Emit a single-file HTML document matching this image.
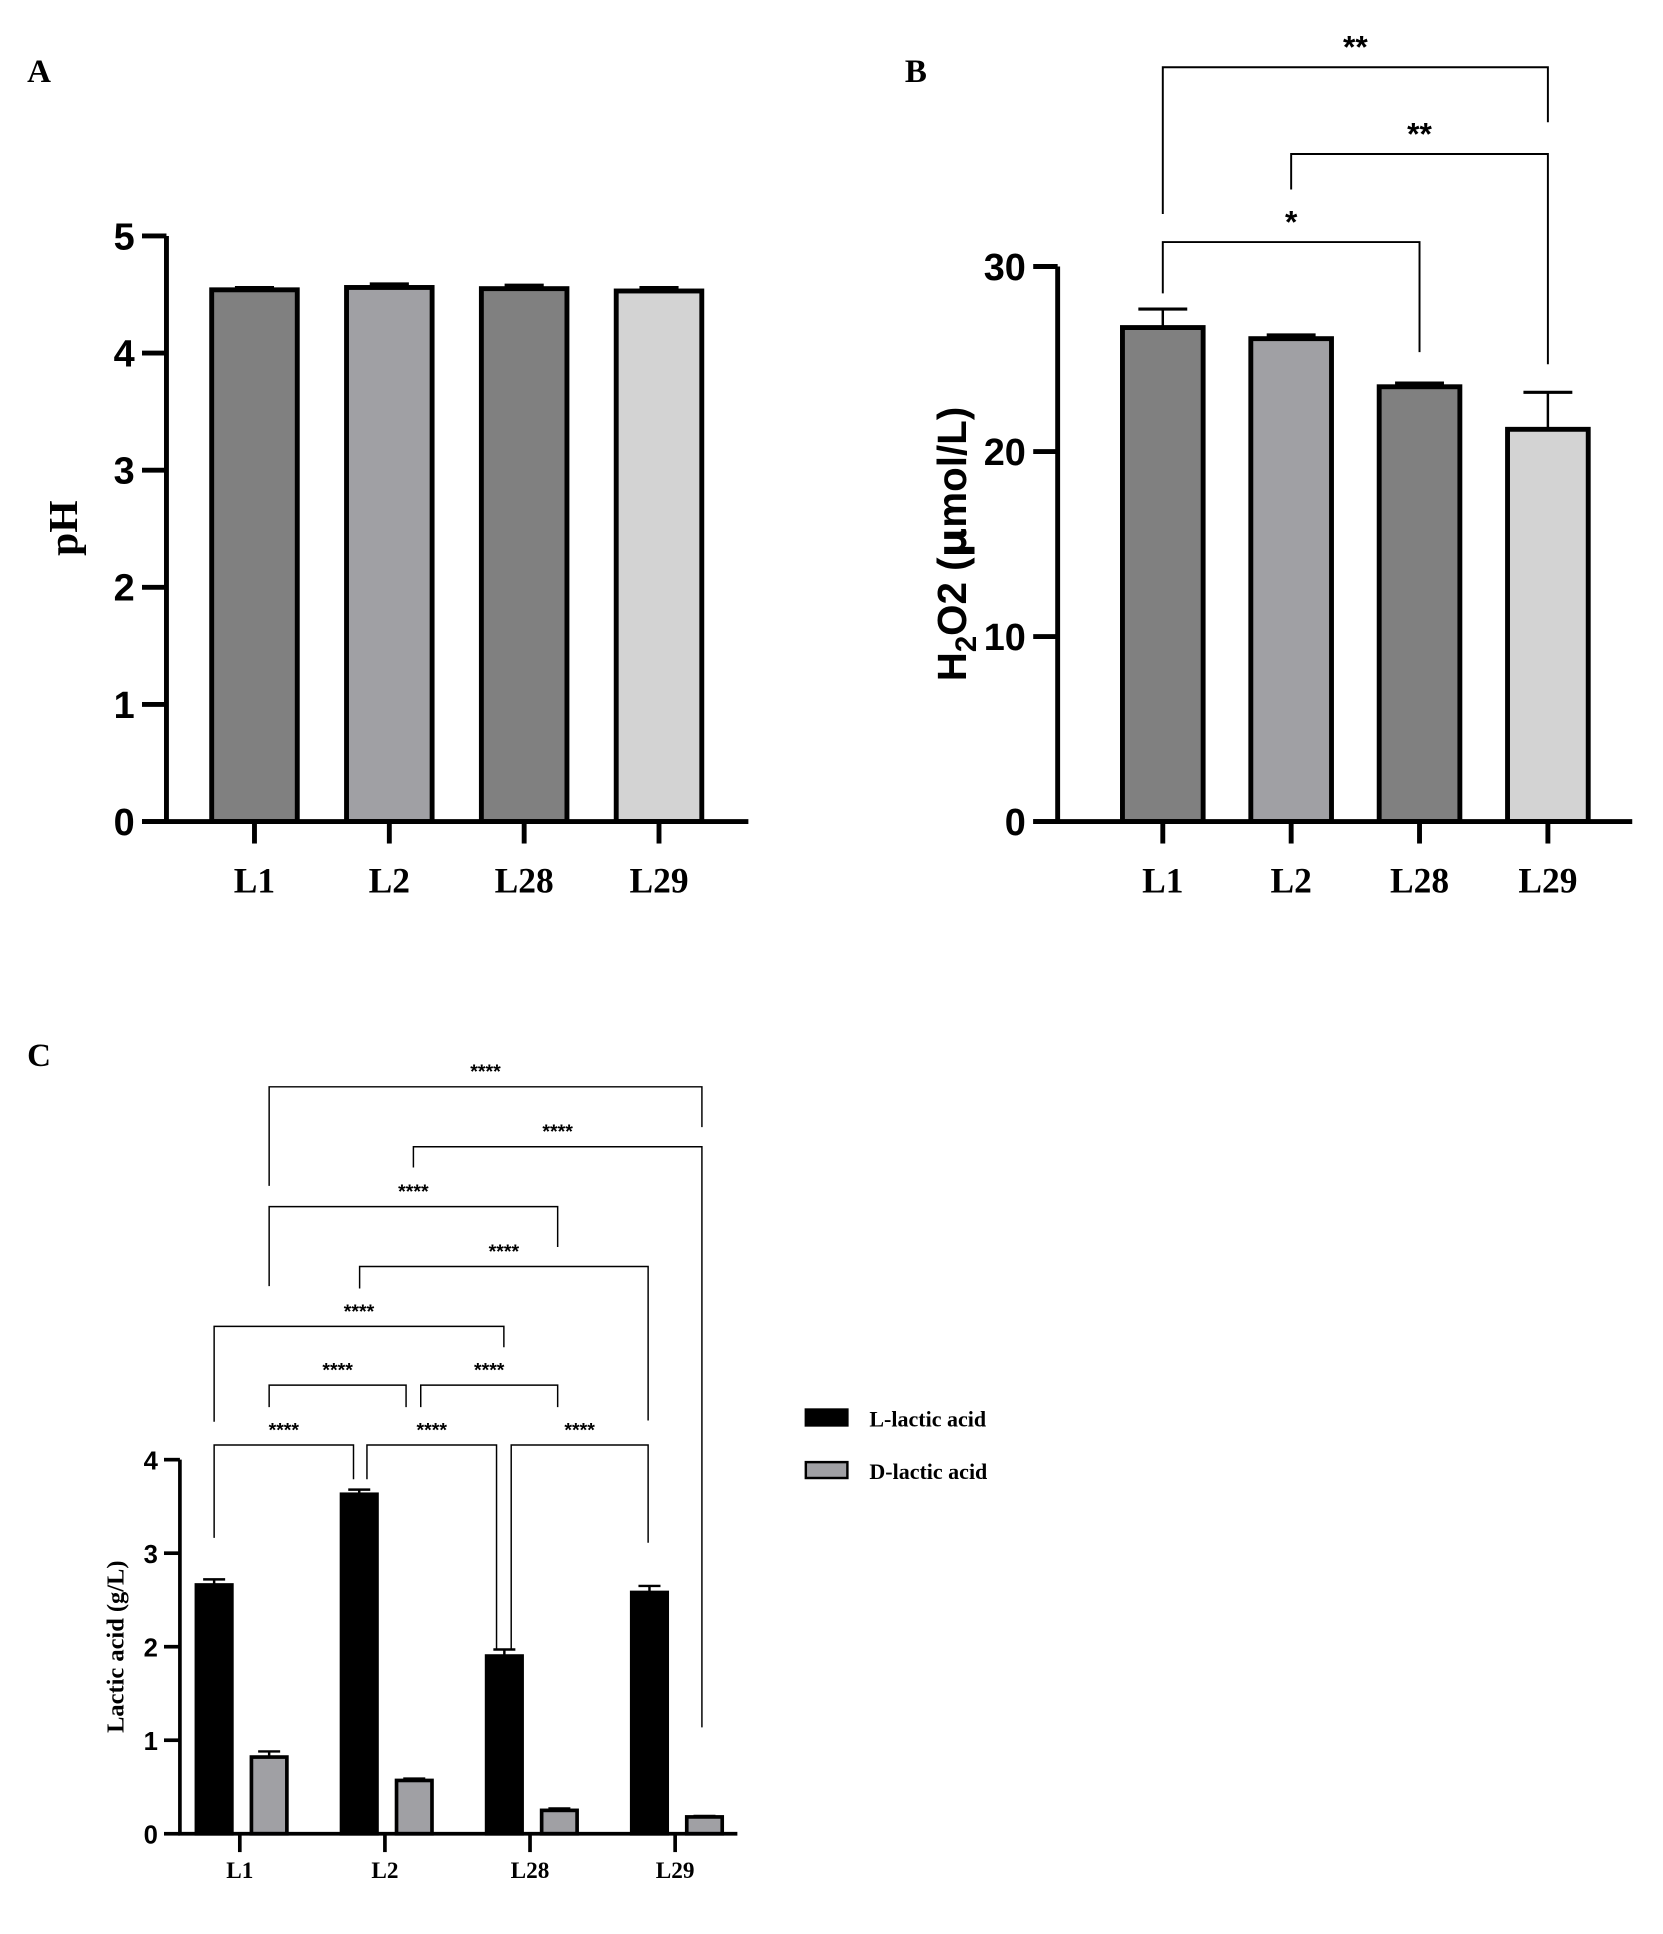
<!DOCTYPE html>
<html><head><meta charset="utf-8">
<style>
html,body{margin:0;padding:0;background:#fff;}
svg{display:block;}
.num{font-family:"Liberation Sans",sans-serif;font-weight:bold;}
.ser{font-family:"Liberation Serif",serif;font-weight:bold;}
</style></head>
<body>
<svg id="fig" width="1663" height="1934" viewBox="0 0 1360 1582" xmlns="http://www.w3.org/2000/svg">
<g id="gA"></g>
<g id="gB"></g>
<g id="gC"></g>
</svg>
<script>
// Panel A data
const catsA = ["L1","L2","L28","L29"];
const phVals = [4.54, 4.56, 4.55, 4.53];
const phErr = [0.02, 0.03, 0.03, 0.03];
const ticksA = [0,1,2,3,4,5];
// Panel B data
const catsB = ["L1","L2","L28","L29"];
const h2o2Vals = [26.7, 26.1, 23.5, 21.2];
const h2o2Err = [1.0, 0.2, 0.2, 2.0];
const ticksB = [0,10,20,30];
// Panel C data
const catsC = ["L1","L2","L28","L29"];
const lVals = [2.66, 3.63, 1.90, 2.58];
const lErr = [0.06, 0.05, 0.07, 0.07];
const dVals = [0.82, 0.57, 0.25, 0.18];
const dErr = [0.06, 0.02, 0.02, 0.01];
const ticksC = [0,1,2,3,4];
const seriesNames = ["L-lactic acid","D-lactic acid"];

const NS = "http://www.w3.org/2000/svg";
function mk(parent, tag, attrs, text){
  const e = document.createElementNS(NS, tag);
  for (const k in attrs) e.setAttribute(k, attrs[k]);
  if (text !== undefined) e.textContent = text;
  parent.appendChild(e);
  return e;
}
const fillsAB = ["#808080","#a0a0a4","#808080","#d3d3d3"];

function barChart(g, cats, vals, errs, ticks, cfg, prefix){
  const y = v => cfg.y0 - (v - 0) * (cfg.y0 - cfg.yTop) / (ticks[ticks.length-1]);
  const x = i => cfg.xStart + i * cfg.step;
  vals.forEach((v,i)=>{
    const cx = x(i);
    const eb = mk(g,'line',{x1:cx,x2:cx,y1:y(v),y2:y(v+errs[i]),stroke:'#000','stroke-width':2});
    
    
    const ec = mk(g,'line',{x1:cx-cfg.cap,x2:cx+cfg.cap,y1:y(v+errs[i]),y2:y(v+errs[i]),stroke:'#000','stroke-width':2.5});
    
    
    const r = mk(g,'rect',{x:cx-cfg.bw/2,y:y(v),width:cfg.bw,height:cfg.y0-y(v),fill:fillsAB[i],stroke:'#000','stroke-width':4});
    
    
    const t = mk(g,'line',{x1:cx,x2:cx,y1:cfg.y0,y2:cfg.y0+18,stroke:'#000','stroke-width':4});
    
    
    const l = mk(g,'text',{x:cx,y:cfg.y0+58,'text-anchor':'middle','class':'ser','font-size':29},cats[i]);
    
    
  });
  const ax = mk(g,'path',{d:`M${cfg.ax} ${cfg.yTop} V${cfg.y0} H${cfg.xEnd} M${cfg.ax-20} ${cfg.y0} H${cfg.ax}`,stroke:'#000','stroke-width':4,fill:'none'});
  
  
  ticks.forEach(tv=>{
    const tk = mk(g,'line',{x1:cfg.ax-20,x2:cfg.ax,y1:y(tv),y2:y(tv),stroke:'#000','stroke-width':4});
    
    
    const tl = mk(g,'text',{x:cfg.ax-26,y:y(tv)+11,'text-anchor':'end','class':'num','font-size':31},String(tv));
    
    
  });
  return y;
}

// Panel A
const gA = document.getElementById('gA');
mk(gA,'text',{x:22,y:67,'class':'ser','font-size':27,},'A');
barChart(gA, catsA, phVals, phErr, ticksA, {y0:672,yTop:193,xStart:208,step:110.3,bw:70,cap:16,ax:136,xEnd:612}, 'ph');
mk(gA,'text',{x:0,y:0,'class':'ser','font-size':34,'text-anchor':'middle',transform:'translate(63,432) rotate(-90)',},'pH');

// Panel B
const gB = document.getElementById('gB');
mk(gB,'text',{x:740,y:67,'class':'ser','font-size':27,},'B');
const yB = barChart(gB, catsB, h2o2Vals, h2o2Err, ticksB, {y0:672,yTop:218,xStart:951,step:105,bw:66,cap:20,ax:865,xEnd:1335}, 'h2o2');
const tB = mk(gB,'text',{x:0,y:0,'class':'num','font-size':33,'text-anchor':'middle',transform:'translate(790,445) rotate(-90)',});
tB.innerHTML = 'H<tspan font-size="24" dy="8">2</tspan><tspan dy="-8">O2 (</tspan><tspan font-family="DejaVu Sans">μ</tspan>mol/L)';
const xB = i => 951 + i*105;
const brB = [
  {a:0,b:2,y:198,la:240,lb:288,s:'*'},
  {a:1,b:3,y:126,la:155,lb:298,s:'**'},
  {a:0,b:3,y:55,la:175,lb:100,s:'**'}
];
brB.forEach(b=>{
  mk(gB,'path',{d:`M${xB(b.a)} ${b.la} V${b.y} H${xB(b.b)} V${b.lb}`,stroke:'#000','stroke-width':1.6,fill:'none',});
  mk(gB,'text',{x:(xB(b.a)+xB(b.b))/2,y:b.y-8,'text-anchor':'middle','class':'num','font-size':26,},b.s);
});

// Panel C
const gC = document.getElementById('gC');
mk(gC,'text',{x:22,y:872,'class':'ser','font-size':27,},'C');
const y0C = 1500, yTopC = 1194;
const yC = v => y0C - v*(y0C-yTopC)/ticksC[ticksC.length-1];
const gx = i => 196 + i*118.7;
const bwC = 29;
function cbar(cx, v, e, fill, name){
  const eb = mk(gC,'path',{d:`M${cx} ${yC(v)} V${yC(v+e)} M${cx-9} ${yC(v+e)} H${cx+9}`,stroke:'#000','stroke-width':2,fill:'none'});
  
  
  const r = mk(gC,'rect',{x:cx-bwC/2,y:yC(v),width:bwC,height:y0C-yC(v),fill:fill,stroke:'#000','stroke-width':3});
  
  
}
catsC.forEach((c,i)=>{
  cbar(gx(i)-21, lVals[i], lErr[i], '#000', 'l-lactic-bar-'+c);
  cbar(gx(i)+24, dVals[i], dErr[i], '#a0a0a4', 'd-lactic-bar-'+c);
  const t = mk(gC,'line',{x1:gx(i),x2:gx(i),y1:y0C,y2:y0C+15,stroke:'#000','stroke-width':3});
  
  
  const l = mk(gC,'text',{x:gx(i),y:1536,'text-anchor':'middle','class':'ser','font-size':19},c);
  
  
});
mk(gC,'path',{d:`M147 ${yTopC} V${y0C} H603`,stroke:'#000','stroke-width':3,fill:'none',});
ticksC.forEach(tv=>{
  const tk = mk(gC,'line',{x1:134,x2:147,y1:yC(tv),y2:yC(tv),stroke:'#000','stroke-width':3});
  
  
  const tl = mk(gC,'text',{x:129,y:yC(tv)+8,'text-anchor':'end','class':'num','font-size':21},String(tv));
  
  
});
mk(gC,'text',{x:0,y:0,'class':'ser','font-size':20,'text-anchor':'middle',transform:'translate(101,1347) rotate(-90)',},'Lactic acid (g/L)');
// brackets [x1,leg1,x2,leg2,y]
const brC = [
  [220,970,574,922,889],
  [338,955,574,1413,938],
  [220,1052,456,1020,987],
  [294,1054,530,1162,1036],
  [175,1163,412,1102,1085],
  [220,1151,332,1151,1133],
  [344,1151,456,1151,1133],
  [175,1258,289,1210,1182],
  [300,1210,406,1350,1182],
  [418,1350,530,1262,1182]
];
brC.forEach(b=>{
  mk(gC,'path',{d:`M${b[0]} ${b[1]} V${b[4]} H${b[2]} V${b[3]}`,stroke:'#000','stroke-width':1.2,fill:'none',});
  mk(gC,'text',{x:(b[0]+b[2])/2,y:b[4]-7,'text-anchor':'middle','class':'num','font-size':16,},'****');
});
// legend
mk(gC,'rect',{x:659,y:1153,width:34,height:13,fill:'#000',stroke:'#000','stroke-width':2,});
mk(gC,'text',{x:711,y:1167,'class':'ser','font-size':18,},seriesNames[0]);
mk(gC,'rect',{x:659,y:1196,width:34,height:13,fill:'#a0a0a4',stroke:'#000','stroke-width':2,});
mk(gC,'text',{x:711,y:1210,'class':'ser','font-size':18,},seriesNames[1]);
</script>
</body></html>
